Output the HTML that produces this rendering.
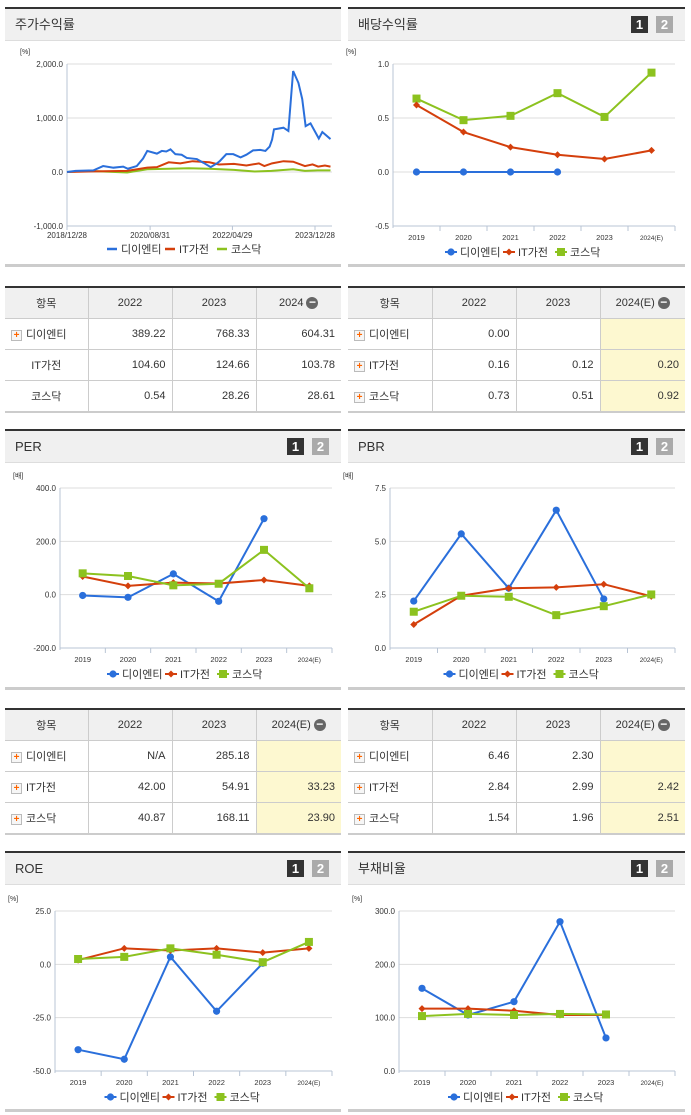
<!DOCTYPE html>
<html><head><meta charset="utf-8">
<style>
body{margin:0;width:691px;height:1115px;background:#fff;font-family:"Liberation Sans","Noto Sans CJK KR",sans-serif;position:relative;overflow:hidden}
.panel{position:absolute;border-top:2px solid #333;border-bottom:3px solid #ccc;box-sizing:border-box}
.hdr{height:31px;background:#f0f0f0;border-bottom:1px solid #ddd;font-size:13px;color:#333;line-height:31px;padding-left:10px;position:relative}
.btn{position:absolute;top:7px;width:17px;height:17px;color:#fff;font-weight:bold;font-size:13px;line-height:17px;text-align:center}
.b1{right:37px;background:#333}.b2{right:12px;background:#aaa}
table{position:absolute;border-collapse:collapse;table-layout:fixed;border-top:2px solid #333;border-bottom:2px solid #ccc;font-size:11px;color:#333}
td,th{border:1px solid #ccc;height:30px;padding:0 6px;font-weight:normal;white-space:nowrap;overflow:hidden}
th{background:#f0f0f0;font-size:11px}
td.n{text-align:right}
td.y{background:#fdf8d0}
tr>*:first-child{border-left:none}tr>*:last-child{border-right:none}
.pl{display:inline-block;width:9px;height:9px;border:1px solid #bbb;background:#f6f6f6;color:#f60;font-size:10px;line-height:9px;text-align:center;font-weight:bold;margin-right:4px;vertical-align:middle}
.mi{display:inline-block;width:12px;height:12px;border-radius:6px;background:#666;color:#fff;line-height:11px;font-size:12px;font-weight:bold;vertical-align:middle;margin-left:3px}
svg{position:absolute;left:0;top:0}
</style></head><body>
<div class="panel" style="left:5px;top:7px;width:336px;height:260px"><div class="hdr">주가수익률</div></div>
<div class="panel" style="left:348px;top:7px;width:337px;height:260px"><div class="hdr">배당수익률<span class="btn b1">1</span><span class="btn b2">2</span></div></div>
<div class="panel" style="left:5px;top:429px;width:336px;height:261px"><div class="hdr">PER<span class="btn b1">1</span><span class="btn b2">2</span></div></div>
<div class="panel" style="left:348px;top:429px;width:337px;height:261px"><div class="hdr">PBR<span class="btn b1">1</span><span class="btn b2">2</span></div></div>
<div class="panel" style="left:5px;top:851px;width:336px;height:261px"><div class="hdr">ROE<span class="btn b1">1</span><span class="btn b2">2</span></div></div>
<div class="panel" style="left:348px;top:851px;width:337px;height:261px"><div class="hdr">부채비율<span class="btn b1">1</span><span class="btn b2">2</span></div></div>

<table style="left:5px;top:286px;width:336px">
<colgroup><col style="width:83px"><col style="width:84px"><col style="width:84px"><col style="width:85px"></colgroup>
<tr><th>항목</th><th>2022</th><th>2023</th><th>2024<span class="mi">−</span></th></tr>
<tr><td><span class="pl">+</span>디이엔티</td><td class="n">389.22</td><td class="n">768.33</td><td class="n">604.31</td></tr>
<tr><td style="text-align:center">IT가전</td><td class="n">104.60</td><td class="n">124.66</td><td class="n">103.78</td></tr>
<tr><td style="text-align:center">코스닥</td><td class="n">0.54</td><td class="n">28.26</td><td class="n">28.61</td></tr></table>

<table style="left:348px;top:286px;width:337px">
<colgroup><col style="width:84px"><col style="width:84px"><col style="width:84px"><col style="width:85px"></colgroup>
<tr><th>항목</th><th>2022</th><th>2023</th><th>2024(E)<span class="mi">−</span></th></tr>
<tr><td><span class="pl">+</span>디이엔티</td><td class="n">0.00</td><td class="n"></td><td class="n y"></td></tr>
<tr><td><span class="pl">+</span>IT가전</td><td class="n">0.16</td><td class="n">0.12</td><td class="n y">0.20</td></tr>
<tr><td><span class="pl">+</span>코스닥</td><td class="n">0.73</td><td class="n">0.51</td><td class="n y">0.92</td></tr></table>

<table style="left:5px;top:708px;width:336px">
<colgroup><col style="width:83px"><col style="width:84px"><col style="width:84px"><col style="width:85px"></colgroup>
<tr><th>항목</th><th>2022</th><th>2023</th><th>2024(E)<span class="mi">−</span></th></tr>
<tr><td><span class="pl">+</span>디이엔티</td><td class="n">N/A</td><td class="n">285.18</td><td class="n y"></td></tr>
<tr><td><span class="pl">+</span>IT가전</td><td class="n">42.00</td><td class="n">54.91</td><td class="n y">33.23</td></tr>
<tr><td><span class="pl">+</span>코스닥</td><td class="n">40.87</td><td class="n">168.11</td><td class="n y">23.90</td></tr></table>

<table style="left:348px;top:708px;width:337px">
<colgroup><col style="width:84px"><col style="width:84px"><col style="width:84px"><col style="width:85px"></colgroup>
<tr><th>항목</th><th>2022</th><th>2023</th><th>2024(E)<span class="mi">−</span></th></tr>
<tr><td><span class="pl">+</span>디이엔티</td><td class="n">6.46</td><td class="n">2.30</td><td class="n y"></td></tr>
<tr><td><span class="pl">+</span>IT가전</td><td class="n">2.84</td><td class="n">2.99</td><td class="n y">2.42</td></tr>
<tr><td><span class="pl">+</span>코스닥</td><td class="n">1.54</td><td class="n">1.96</td><td class="n y">2.51</td></tr></table>

<svg id="s" width="691" height="1115"></svg>
<script>
const catYears=['2019','2020','2021','2022','2023','2024(E)'];
const divDient=[0,0,0,0,null,null];
const divIT=[0.62,0.37,0.23,0.16,0.12,0.20];
const divKosdaq=[0.68,0.48,0.52,0.73,0.51,0.92];
const perDient=[-3,-10,78,-25,285,null];
const perIT=[68,33,45,42,55,33];
const perKosdaq=[80,70,35,41,168,24];
const pbrDient=[2.2,5.35,2.8,6.46,2.30,null];
const pbrIT=[1.1,2.45,2.8,2.84,2.99,2.42];
const pbrKosdaq=[1.7,2.45,2.4,1.54,1.96,2.51];
const roeDient=[-40,-44.5,3.5,-22,0.5,null];
const roeIT=[2,7.5,6.5,7.5,5.5,7.5];
const roeKosdaq=[2.5,3.5,7.5,4.5,1,10.5];
const debtDient=[155,105,130,280,62,null];
const debtIT=[117,117,113,105,105,null];
const debtKosdaq=[103,107,105,107,106,null];
const stockDates=['2018-12-28','2019-03-01','2019-07-10','2019-09-20','2019-12-05','2020-02-15','2020-03-20','2020-05-25','2020-07-10','2020-08-10','2020-10-20','2020-11-25','2020-12-28','2021-01-28','2021-03-05','2021-04-20','2021-05-28','2021-08-10','2021-09-28','2021-11-20','2022-01-05','2022-01-25','2022-03-15','2022-05-05','2022-06-28','2022-08-10','2022-09-28','2022-11-20','2022-12-28','2023-01-28','2023-02-15','2023-03-01','2023-05-10','2023-06-15','2023-07-20','2023-08-28','2023-09-25','2023-10-20','2023-11-25','2024-01-25','2024-02-20','2024-04-20'];
const stockDient=[0,20,30,110,80,100,60,110,250,390,340,390,380,420,330,320,260,240,170,90,160,200,330,330,270,320,400,410,390,470,600,790,820,760,1870,1650,1350,850,900,620,740,610];
const itDates=['2018-12-28','2019-06-01','2020-03-15','2020-08-10','2020-10-20','2021-01-15','2021-04-10','2021-07-10','2021-11-10','2022-01-20','2022-05-10','2022-08-10','2022-11-10','2022-12-20','2023-02-15','2023-05-10','2023-07-20','2023-10-15','2023-12-10','2024-01-20','2024-03-10','2024-04-20'];
const stockIT=[0,10,20,80,90,180,160,200,180,140,150,120,160,110,160,200,190,110,140,100,120,100];
const kqDates=['2018-12-28','2019-06-01','2020-03-15','2020-08-10','2021-01-15','2021-06-10','2021-11-10','2022-05-10','2022-10-10','2023-02-10','2023-07-20','2023-10-15','2024-01-15','2024-04-20'];
const stockKosdaq=[0,20,-10,50,60,70,60,40,10,20,50,20,30,30];
const stockTicks=[2000,1000,0,-1000];
const stockTickLabels=['2,000.0','1,000.0','0.0','-1,000.0'];
const stockXDates=['2018-12-28','2020-08-31','2022-04-29','2023-12-28'];
const stockXLabels=['2018/12/28','2020/08/31','2022/04/29','2023/12/28'];

const S=document.getElementById('s');const NS='http://www.w3.org/2000/svg';
function mk(t,a,txt){const e=document.createElementNS(NS,t);for(const k in a)e.setAttribute(k,a[k]);if(txt!==undefined)e.textContent=txt;S.appendChild(e);return e;}
const C={b:'#2a6fdb',r:'#d43f0c',g:'#8cc21f'};
function marker(type,x,y,col,name){let e;
 if(type==='c')e=mk('circle',{cx:x,cy:y,r:3.6,fill:col});
 else if(type==='d')e=mk('path',{d:`M${x} ${y-3.5}L${x+3.5} ${y}L${x} ${y+3.5}L${x-3.5} ${y}Z`,fill:col});
 else e=mk('rect',{x:x-4,y:y-4,width:8,height:8,fill:col});
 
 }
function axes(x0,x1,yTop,yBot,ticks,labels,unit){
 const ys=(v)=>yTop+(ticks[0]-v)/(ticks[0]-ticks[ticks.length-1])*(yBot-yTop);
 ticks.forEach((t,i)=>{const y=ys(t);
  if(i<ticks.length-1){const g=mk('line',{x1:x0,x2:x1,y1:y,y2:y,stroke:'#ddd'});}
  const l=mk('text',{x:x0-4,y:y+3,'font-size':8,'text-anchor':'end',fill:'#333'},labels[i]);});
 const ax=mk('line',{x1:x0,x2:x0,y1:yTop,y2:yBot+2,stroke:'#b8c4d4'});
 const bx=mk('line',{x1:x0,x2:x1,y1:yBot,y2:yBot,stroke:'#b8c4d4'});
 const u=mk('text',{x:x0-44<10?15:x0-47,y:yTop-10,'font-size':7,fill:'#333'},unit);
 return ys;}
function legend(cx,y,line){
 const items=[['디이엔티',C.b,'c'],['IT가전',C.r,'d'],['코스닥',C.g,'s']];
 let x=cx-78;
 items.forEach(([n,c,t])=>{
  if(line){const l=mk('line',{x1:x,x2:x+10,y1:y,y2:y,stroke:c,'stroke-width':2.5});}
  else{const l=mk('line',{x1:x-1,x2:x+11,y1:y,y2:y,stroke:c,'stroke-width':2});marker(t,x+5,y,c,'legend-marker');}
  const tx=mk('text',{x:x+14,y:y+4,'font-size':11,fill:'#333'},n);
  x+=n==='디이엔티'?58:52;});}
function catChart(key,x0,x1,yTop,yBot,ticks,labels,unit,series){
 const ys=axes(x0,x1,yTop,yBot,ticks,labels,unit);
 const bw=(x1-x0)/catYears.length;const xs=i=>x0+bw*(i+0.5);
 catYears.forEach((c,i)=>{const tk=mk('line',{x1:x0+bw*(i+1),x2:x0+bw*(i+1),y1:yBot,y2:yBot+5,stroke:'#b8c4d4'});
  const t=mk('text',{x:xs(i),y:yBot+14,'font-size':c.length>4?6.5:7.5,'text-anchor':'middle',fill:'#333'},c);});
 series.forEach(([arr,col,type,nm])=>{let d='';arr.forEach((v,i)=>{if(v===null)return;d+=(d?'L':'M')+xs(i)+' '+ys(v);});
  const p=mk('path',{d,fill:'none',stroke:col,'stroke-width':2});
  arr.forEach((v,i)=>{if(v!==null)marker(type,xs(i),ys(v),col,key+'-'+nm+'-point');});});
 legend((x0+x1)/2-10,yBot+26,false);}
(function(){const x0=67,x1=332,yTop=64,yBot=226;
 const ys=axes(x0,x1,yTop,yBot,stockTicks,stockTickLabels,'[%]');
 const t0=Date.parse('2018-12-28'),t1=Date.parse('2023-12-28');const xs=d=>67+(Date.parse(d)-t0)/(t1-t0)*248;
 stockXDates.forEach((d,i)=>{const tk=mk('line',{x1:xs(d),x2:xs(d),y1:yBot,y2:yBot+4,stroke:'#b8c4d4'});
  const t=mk('text',{x:xs(d),y:yBot+12,'font-size':8,'text-anchor':'middle',fill:'#333'},stockXLabels[i]);});
 [[kqDates,stockKosdaq,C.g,'kosdaq'],[itDates,stockIT,C.r,'it'],[stockDates,stockDient,C.b,'dient']].forEach(([ds,vs,c,n])=>{
  const d=vs.map((v,i)=>(i?'L':'M')+xs(ds[i])+' '+ys(v)).join('');
  const p=mk('path',{d,fill:'none',stroke:c,'stroke-width':2});});
 legend(185,249,true);})();
catChart('dividend',393,675,64,226,[1.0,0.5,0,-0.5],['1.0','0.5','0.0','-0.5'],'[%]',[[divKosdaq,C.g,'s','kosdaq'],[divIT,C.r,'d','it'],[divDient,C.b,'c','dient']]);
catChart('per',60,332,488,648,[400,200,0,-200],['400.0','200.0','0.0','-200.0'],'[배]',[[perDient,C.b,'c','dient'],[perIT,C.r,'d','it'],[perKosdaq,C.g,'s','kosdaq']]);
catChart('pbr',390,675,488,648,[7.5,5.0,2.5,0],['7.5','5.0','2.5','0.0'],'[배]',[[pbrDient,C.b,'c','dient'],[pbrIT,C.r,'d','it'],[pbrKosdaq,C.g,'s','kosdaq']]);
catChart('roe',55,332,911,1071,[25,0,-25,-50],['25.0','0.0','-25.0','-50.0'],'[%]',[[roeDient,C.b,'c','dient'],[roeIT,C.r,'d','it'],[roeKosdaq,C.g,'s','kosdaq']]);
catChart('debt',399,675,911,1071,[300,200,100,0],['300.0','200.0','100.0','0.0'],'[%]',[[debtDient,C.b,'c','dient'],[debtIT,C.r,'d','it'],[debtKosdaq,C.g,'s','kosdaq']]);
</script>
</body></html>
